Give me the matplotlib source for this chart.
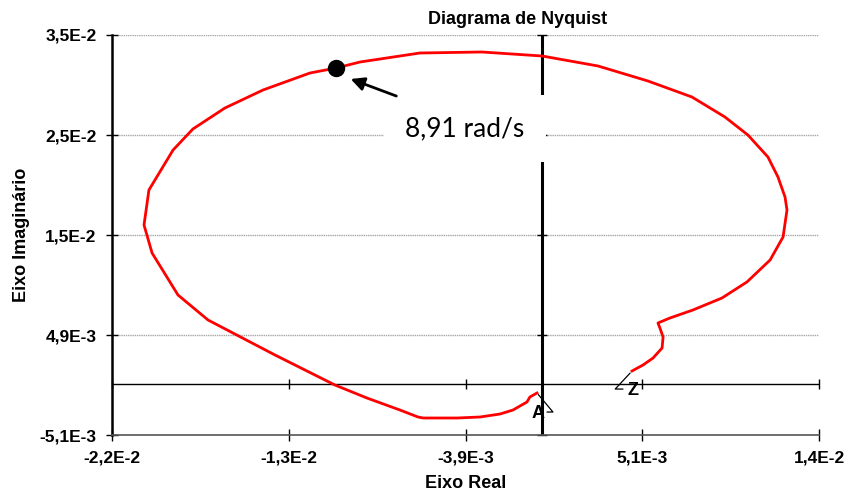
import numpy as np
import matplotlib
matplotlib.use("Agg")
import matplotlib.pyplot as plt

# Nyquist curve, traced from end "A" to end "Z"
real = [-0.00026, -0.00062, -0.00077, -0.00148, -0.00214, -0.00316, -0.00433,
        -0.00606, -0.00632, -0.00724, -0.00892, -0.01055, -0.01360, -0.01701,
        -0.01854, -0.01986, -0.02027, -0.02002, -0.01879, -0.01778, -0.01615,
        -0.01421, -0.01182, -0.01049, -0.00927, -0.00622, -0.00306, 0.00000,
        0.00285, 0.00539, 0.00763, 0.00931, 0.01048, 0.01150, 0.01201,
        0.01237, 0.01247, 0.01227, 0.01161, 0.01043, 0.00916, 0.00768,
        0.00651, 0.00590, 0.00600, 0.00616, 0.00611, 0.00565, 0.00514, 0.00458]
imag = [-0.0009, -0.0013, -0.0018, -0.0026, -0.0030, -0.0033, -0.0034,
        -0.0034, -0.0033, -0.0026, -0.0014, -0.0001, 0.0029, 0.0064,
        0.0089, 0.0131, 0.0159, 0.0194, 0.0234, 0.0255, 0.0276,
        0.0294, 0.0311, 0.0316, 0.0322, 0.0331, 0.0332, 0.0328,
        0.0318, 0.0303, 0.0287, 0.0267, 0.0249, 0.0227, 0.0207,
        0.0187, 0.0174, 0.0147, 0.0124, 0.0102, 0.0086, 0.0074,
        0.0066, 0.0061, 0.0056, 0.0047, 0.0036, 0.0026, 0.0019, 0.0013]

# highlighted frequency point
w_label = "8,91 rad/s"
w_real, w_imag = -0.01049, 0.0316

xticks = [-0.0219, -0.0129, -0.0039, 0.0051, 0.0141]
xlabels = ["-2,2E-2", "-1,3E-2", "-3,9E-3", "5,1E-3", "1,4E-2"]
yticks = [-0.0051, 0.0049, 0.0149, 0.0249, 0.0349]
ylabels = ["-5,1E-3", "4,9E-3", "1,5E-2", "2,5E-2", "3,5E-2"]

plt.rcParams["font.family"] = ["Liberation Sans", "DejaVu Sans"]

fig = plt.figure(figsize=(8.46, 4.97), dpi=100)
ax = fig.add_axes([112 / 846, 62 / 497, 707 / 846, 400 / 497])

ax.set_xlim(xticks[0], xticks[-1])
ax.set_ylim(yticks[0], yticks[-1])

# horizontal gridlines only
for yv in yticks[1:]:
    ax.axhline(yv, color="#a6a6a6", lw=1.0, ls=(0, (1, 0.6)), zorder=1)

# axes through the origin, with crossing tick marks
ax.axvline(0, color="black", lw=2.2, zorder=2)
ax.axhline(0, color="black", lw=1.0, zorder=2)
ax.plot(np.zeros(len(yticks)), yticks, ls="none", marker="_", ms=7,
        mew=1.0, color="black", zorder=2, clip_on=False)
ax.plot(xticks, np.zeros(len(xticks)), ls="none", marker="|", ms=7,
        mew=1.0, color="black", zorder=2, clip_on=False)

ax.plot(real, imag, color="#ff0000", lw=2.0, zorder=3)
ax.plot(w_real, w_imag, "o", color="black", ms=11.5, zorder=4)

ax.annotate("", xy=(-0.00988, 0.0306), xytext=(-0.00729, 0.0287),
            arrowprops=dict(arrowstyle="-|>", color="black", lw=2.0,
                            mutation_scale=20), zorder=7)
ax.text(-0.00393, 0.02555, w_label, fontsize=19, family=["Lato", "DejaVu Sans"],
        ha="center", va="center", zorder=6,
        bbox=dict(boxstyle="square,pad=0.8", fc="white", ec="none"))

# end labels with leader lines
ax.text(-0.00019, -0.0029, "A", fontsize=13, fontweight="bold",
        ha="center", va="center", zorder=6)
ax.annotate("", xy=(real[0], imag[0]), xytext=(7.2, -13.7),
            textcoords="offset points",
            arrowprops=dict(arrowstyle="-", color="black", lw=0.9,
                            shrinkA=0, shrinkB=1.5,
                            connectionstyle="angle,angleA=0,angleB=130,rad=0"))
ax.text(0.00464, -0.00067, "Z", fontsize=13, fontweight="bold",
        ha="center", va="center", zorder=6)
ax.annotate("", xy=(real[-1], imag[-1]), xytext=(-6.5, -13),
            textcoords="offset points",
            arrowprops=dict(arrowstyle="-", color="black", lw=0.9,
                            shrinkA=0, shrinkB=2,
                            connectionstyle="angle,angleA=180,angleB=47,rad=0"))

for side in ["top", "right"]:
    ax.spines[side].set_visible(False)
ax.spines["left"].set_linewidth(1.8)
ax.spines["bottom"].set_color("#555555")
ax.spines["bottom"].set_linewidth(1.2)

ax.set_xticks(xticks)
ax.set_xticklabels(xlabels, fontweight="bold", fontsize=12.5)
ax.set_yticks(yticks)
ax.set_yticklabels(ylabels, fontweight="bold", fontsize=12.5)
ax.tick_params(direction="inout", length=8, width=1, colors="black", pad=7)

ax.set_xlabel("Eixo Real", fontweight="bold", fontsize=13, labelpad=7)
ax.set_ylabel("Eixo Imaginário", fontweight="bold", fontsize=13, labelpad=7)
ax.text(0.574, 1.0375, "Diagrama de Nyquist", transform=ax.transAxes,
        fontweight="bold", fontsize=13, ha="center", va="center")

fig.savefig("out.png", dpi=100)
